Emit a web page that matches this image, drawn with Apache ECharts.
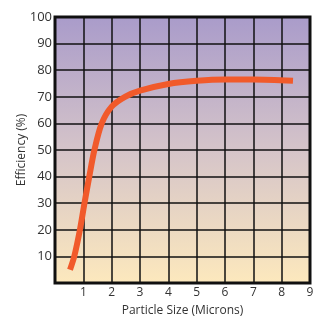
<!DOCTYPE html>
<html>
<head>
<meta charset="utf-8">
<script src="https://cdn.jsdelivr.net/npm/echarts@6/dist/echarts.min.js"></script>
<style>
  html, body { margin: 0; padding: 0; background: #fff; }
  #chart { width: 320px; height: 316px; }
</style>
</head>
<body>
<div id="chart"></div>
<script>
// particle size (microns) vs efficiency (%)
var sizes = [0.53, 0.68, 0.88, 1.04, 1.21, 1.39, 1.65, 2.0, 2.47, 3, 4, 5, 6, 7, 8.4];
var efficiency = [5, 10, 20, 30, 40, 50, 60, 66.3, 70, 72.3, 74.8, 76, 76.5, 76.5, 76];

var xTicks = [1, 2, 3, 4, 5, 6, 7, 8, 9];
var yTicks = [10, 20, 30, 40, 50, 60, 70, 80, 90, 100];

var chart = echarts.init(document.getElementById('chart'));

var points = [];
for (var i = 0; i < sizes.length; i++) {
  points.push([sizes[i], efficiency[i]]);
}

var font = 'Open Sans';

var option = {
  animation: false,
  grid: {
    left: 55, top: 17, right: 10, bottom: 33,
    outerBoundsMode: 'none',
    show: true,
    borderColor: '#111',
    borderWidth: 3,
    backgroundColor: new echarts.graphic.LinearGradient(0, 0, 0, 1, [
      { offset: 0, color: '#a99bca' },
      { offset: 0.5, color: '#d5c4c9' },
      { offset: 1, color: '#fde9bd' }
    ])
  },
  xAxis: {
    type: 'value',
    min: 0, max: 9, interval: 1,
    name: 'Particle Size (Microns)',
    nameLocation: 'middle',
    nameGap: 22,
    nameMoveOverlap: false,
    nameTextStyle: { fontFamily: font, fontSize: 12, color: '#333' },
    axisLine: { show: false },
    axisTick: { show: false },
    axisLabel: {
      margin: 4, fontFamily: font, fontSize: 12, color: '#333',
      formatter: function (v) { return xTicks.indexOf(v) >= 0 ? String(v) : ''; }
    },
    splitLine: { show: true, lineStyle: { color: '#111', width: 1.5 } }
  },
  yAxis: {
    type: 'value',
    min: 0, max: 100, interval: 10,
    name: 'Efficiency (%)',
    nameLocation: 'middle',
    nameGap: 27,
    nameMoveOverlap: false,
    nameTextStyle: { fontFamily: font, fontSize: 12, color: '#333' },
    axisLine: { show: false },
    axisTick: { show: false },
    axisLabel: {
      margin: 3, fontFamily: font, fontSize: 13, color: '#333',
      formatter: function (v) { return yTicks.indexOf(v) >= 0 ? String(v) : ''; }
    },
    splitLine: { show: true, lineStyle: { color: '#111', width: 1.5 } }
  },
  series: [{
    type: 'line',
    data: points,
    smooth: 0.3,
    symbol: 'none',
    lineStyle: { color: '#f15a2b', width: 6, cap: 'butt' }
  }]
};

chart.setOption(option);
</script>
</body>
</html>
